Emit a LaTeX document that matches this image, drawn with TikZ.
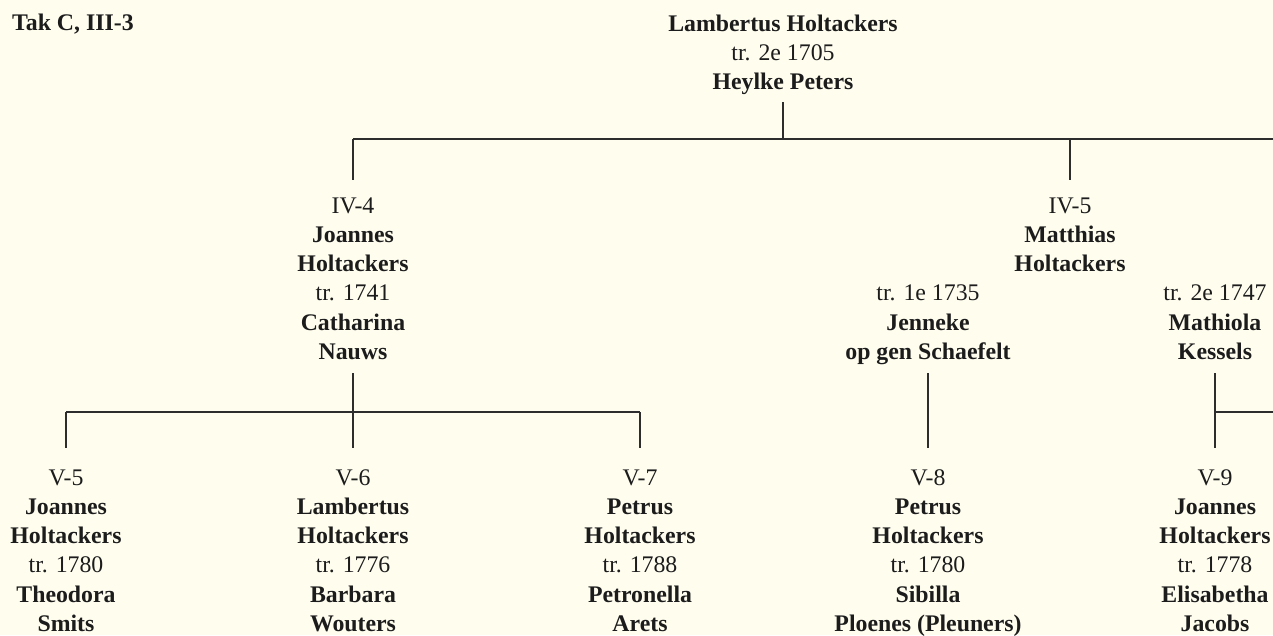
\documentclass[tikz,border=0pt]{standalone}
\usepackage{fontspec}
\setmainfont{Liberation Serif}
\definecolor{paper}{RGB}{255,253,238}
\definecolor{ink}{RGB}{28,28,28}
\definecolor{linec}{RGB}{45,45,45}
\newcommand\PB[1]{\strut\textbf{#1}}
\newcommand\PR[1]{\strut #1}
\tikzset{
  person/.style={align=center, anchor=north, inner sep=0pt, outer sep=0pt,
    font=\fontsize{23.8}{29.3}\selectfont, text=ink},
  heading/.style={anchor=base west, inner sep=0pt,
    font=\fontsize{23.8}{29.3}\selectfont\bfseries, text=ink},
  link/.style={draw=linec, line width=1.2pt},
}
\begin{document}
\begin{tikzpicture}[x=1pt,y=-1pt]
\fill[paper] (0,0) rectangle (1273,635);
\useasboundingbox (0,0) rectangle (1273,635);

\node[heading] (tak) at (12,30) {Tak C, III-3};

\node[person] (lh) at (783,10.5) {\PB{Lambertus Holtackers}\\\PR{tr. 2e 1705}\\\PB{Heylke Peters}};

\node[person] (iv4) at (353,192.5) {\PR{IV-4}\\\PB{Joannes}\\\PB{Holtackers}\\\PR{tr. 1741}\\\PB{Catharina}\\\PB{Nauws}};
\node[person] (iv5) at (1070,192.5) {\PR{IV-5}\\\PB{Matthias}\\\PB{Holtackers}};
\node[person] (sp1) at (928,280.4) {\PR{tr. 1e 1735}\\\PB{Jenneke}\\\PB{op gen Schaefelt}};
\node[person] (sp2) at (1215,280.4) {\PR{tr. 2e 1747}\\\PB{Mathiola}\\\PB{Kessels}};

\node[person] (v5) at (66,464.5) {\PR{V-5}\\\PB{Joannes}\\\PB{Holtackers}\\\PR{tr. 1780}\\\PB{Theodora}\\\PB{Smits}};
\node[person] (v6) at (353,464.5) {\PR{V-6}\\\PB{Lambertus}\\\PB{Holtackers}\\\PR{tr. 1776}\\\PB{Barbara}\\\PB{Wouters}};
\node[person] (v7) at (640,464.5) {\PR{V-7}\\\PB{Petrus}\\\PB{Holtackers}\\\PR{tr. 1788}\\\PB{Petronella}\\\PB{Arets}};
\node[person] (v8) at (928,464.5) {\PR{V-8}\\\PB{Petrus}\\\PB{Holtackers}\\\PR{tr. 1780}\\\PB{Sibilla}\\\PB{Ploenes (Pleuners)}};
\node[person] (v9) at (1215,464.5) {\PR{V-9}\\\PB{Joannes}\\\PB{Holtackers}\\\PR{tr. 1778}\\\PB{Elisabetha}\\\PB{Jacobs}};

\coordinate (bus1) at (0,139);
\coordinate (bus1end) at (1273,139);
\coordinate (bus2) at (0,412);
\coordinate (bus2end) at (1273,412);

% generation IV
\draw[link, shorten <=3.6pt] (lh.south) -- (lh.south |- bus1);
\draw[link] (iv4.north |- bus1) -- (bus1end);
\draw[link, shorten >=12.5pt] (iv4.north |- bus1) -- (iv4.north);
\draw[link, shorten >=12.5pt] (iv5.north |- bus1) -- (iv5.north);

% children of IV-4
\draw[link, shorten <=4.7pt, shorten >=16.5pt] (iv4.south) -- (v6.north);
\draw[link] (v5.north |- bus2) -- (v7.north |- bus2);
\draw[link, shorten >=16.5pt] (v5.north |- bus2) -- (v5.north);
\draw[link, shorten >=16.5pt] (v7.north |- bus2) -- (v7.north);

% children of IV-5
\draw[link, shorten <=4.7pt, shorten >=16.5pt] (sp1.south) -- (v8.north);
\draw[link, shorten <=4.7pt, shorten >=16.5pt] (sp2.south) -- (v9.north);
\draw[link] (v9.north |- bus2) -- (bus2end);
\end{tikzpicture}
\end{document}
